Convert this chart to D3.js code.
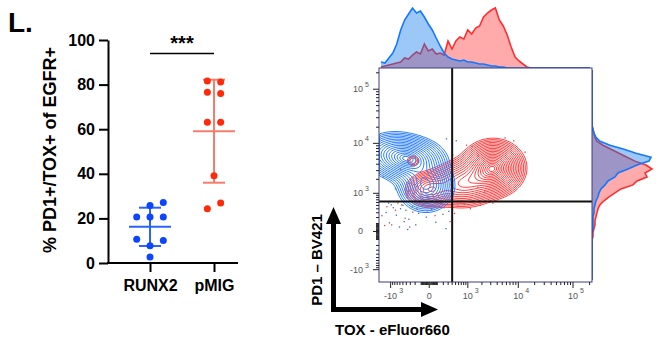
<!DOCTYPE html>
<html>
<head>
<meta charset="utf-8">
<script src="https://cdn.jsdelivr.net/npm/d3@7"></script>
<style>
  body { margin: 0; background: #fff; }
  svg { font-family: "Liberation Sans", Arial, sans-serif; }
</style>
</head>
<body>
<svg id="chart" width="659" height="339"></svg>
<script>
// ---- dot plot data ----
const groups = ["RUNX2", "pMIG"];
const runx2Values = [25.8, 27.1, 20.6, 20.6, 20.6, 10.7, 10.1, 7.7, 2.7];
const runx2Cols = [0, 1, -1, 0, 1, -1, 1, 0, 0];
const pmigValues = [81.6, 81.2, 76.6, 76.0, 63.1, 63.1, 39.1, 24.3, 26.9];
const pmigCols = [-0.5, 0.5, -0.5, 0.5, -0.5, 0.5, 0, -0.5, 0.5];
const leftTicks = [0, 20, 40, 60, 80, 100];
const sigLevel = 94;

// ---- flow plot data ----
const toxLim = [-1780, 221000];
const pd1Lim = [-1850, 245000];
const toxGate = 400;
const pd1Gate = 630;
const majorTicks = [-1000, 0, 1000, 10000, 100000];
// density lobes: [tox, pd1, spread tox, spread pd1 (ln units), weight]
const runx2Lobes = [[-306, 4840, 0.7, 0.44, 1.0], [-36, 1450, 0.56, 0.52, 0.9], [-929, 6880, 0.67, 0.44, 0.5]];
const pmigLobes = [[3320, 3380, 0.62, 0.55, 1.0], [731, 1600, 0.7, 0.5, 0.55], [-12, 1190, 0.5, 0.38, 0.45], [-241, 4700, 0.2, 0.17, 0.15]];
// sparse events outside contours [tox, pd1]
const runx2Events = [[-1300,320],[-1100,120],[-900,450],[-760,260],[-640,60],[-520,520],[-430,380],[-350,180],[-270,470],[-200,90],[-150,300],[-90,540],[-40,220],[20,400],[70,130],[120,480],[180,280],[240,40],[300,350],[-600,420],[-380,30],[-220,560],[90,560],[-1000,540],[1200,9000],[500,11500],[-1500,2300],[1600,6000],[250,12500],[2200,1100],[-800,1300],[-1150,600],[-480,140],[160,610],[-30,330]];
const pmigEvents = [[-1600,250],[-1250,480],[-980,90],[-800,380],[-560,540],[-330,60],[-180,420],[-60,520],[60,250],[200,450],[330,140],[550,500],[800,560],[1100,420],[1800,520],[-450,200],[140,560],[450,300],[2800,10500],[5500,13000],[900,9500],[13000,7000],[1600,1400],[400,6200],[8000,11500],[-600,3300],[3200,600],[-1400,80],[-700,600],[-260,330]];
// histograms (54 bins across each axis, low -> high)
const runx2ToxHist = [6,5,10,15,24,38,48,54,60,55,57,51,44,38,30,22,15,11,9,8,7,8,6,6,5,4,4,3,2,2,1,1,0,0,0,0,0,0,0,0,0,0,0,0,0,0,0,0,0,0,0,0,0,0];
const pmigToxHist = [1,2,3,4,5,6,10,9,13,16,14,24,17,19,14,15,13,27,19,27,31,29,38,34,40,42,51,55,58,60,48,42,33,21,11,7,4,1,0,0,0,0,0,0,0,0,0,0,0,0,0,0,0,0];
const runx2Pd1Hist = [0,0,0,0,0,0,0,0,0,0,0,0,0,1,1,1,1,2,2,3,4,6,7,9,13,16,23,26,36,45,57,59,44,32,18,8,4,2,1,0,0,0,0,0,0,0,0,0,0,0,0,0,0,0];
const pmigPd1Hist = [0,0,0,0,0,0,0,0,0,0,0,1,1,2,3,3,4,5,6,8,12,17,23,29,41,45,55,53,60,54,43,35,27,19,11,5,3,2,1,0,0,0,0,0,0,0,0,0,0,0,0,0,0,0];

const svg = d3.select("#chart");
const BOLD = "bold";

// ================= LEFT: dot plot =================
svg.append("text").attr("x", 8).attr("y", 32).attr("font-size", 28).attr("font-weight", BOLD).text("L.");

const yLeft = d3.scaleLinear().domain([0, 100]).range([263, 40]);
const xLeft = d3.scalePoint().domain(groups).range([118, 246]).padding(0.5);

const gyL = svg.append("g").attr("transform", "translate(108,0)")
  .call(d3.axisLeft(yLeft).tickValues(leftTicks).tickSize(9).tickSizeOuter(0).tickPadding(4));
gyL.attr("font-family", null).attr("font-size", 16).attr("font-weight", BOLD);
gyL.selectAll("path,line").attr("stroke", "#000").attr("stroke-width", 2);
gyL.selectAll("text").attr("fill", "#000");

const gxL = svg.append("g").attr("transform", "translate(0,263)")
  .call(d3.axisBottom(xLeft).tickSize(9).tickSizeOuter(0).tickPadding(8));
gxL.attr("font-family", null).attr("font-size", 16).attr("font-weight", BOLD);
gxL.select(".domain").attr("d", "M107,0H238");
gxL.selectAll("path,line").attr("stroke", "#000").attr("stroke-width", 2);
gxL.selectAll("text").attr("fill", "#000");

svg.append("text").attr("transform", "translate(56,150) rotate(-90)")
  .attr("text-anchor", "middle").attr("font-size", 18).attr("font-weight", BOLD)
  .text("% PD1+/TOX+ of EGFR+");

const colStep = 13.3;
function drawGroup(name, values, cols, dotColor, lineColor) {
  const cx = xLeft(name);
  const m = d3.mean(values), sd = d3.deviation(values);
  const g = svg.append("g").attr("stroke", lineColor).attr("stroke-width", 2);
  g.append("line").attr("x1", cx).attr("x2", cx).attr("y1", yLeft(m - sd)).attr("y2", yLeft(m + sd));
  g.append("line").attr("x1", cx - 21).attr("x2", cx + 21).attr("y1", yLeft(m)).attr("y2", yLeft(m));
  [m - sd, m + sd].forEach(v => g.append("line").attr("x1", cx - 11).attr("x2", cx + 11).attr("y1", yLeft(v)).attr("y2", yLeft(v)));
  svg.append("g").selectAll("circle").data(values).join("circle")
    .attr("cx", (d, i) => cx + cols[i] * colStep).attr("cy", d => yLeft(d))
    .attr("r", 3.5).attr("fill", dotColor);
}
drawGroup("RUNX2", runx2Values, runx2Cols, "#0d45ff", "#2a64ff");
drawGroup("pMIG", pmigValues, pmigCols, "#ff2a0a", "#f47d6c");

svg.append("line").attr("x1", xLeft("RUNX2")).attr("x2", xLeft("pMIG"))
  .attr("y1", yLeft(sigLevel)).attr("y2", yLeft(sigLevel)).attr("stroke", "#000").attr("stroke-width", 1.5);
svg.append("text").attr("x", (xLeft("RUNX2") + xLeft("pMIG")) / 2).attr("y", yLeft(sigLevel) - 3)
  .attr("text-anchor", "middle").attr("font-size", 20).attr("font-weight", BOLD).text("***");

// ================= RIGHT: flow plot =================
const x0 = 379, x1 = 592, y0 = 68, y1 = 282;
const xFlow = d3.scaleSymlog().constant(250).domain(toxLim).range([x0, x1]);
const yFlow = d3.scaleSymlog().constant(250).domain(pd1Lim).range([y1, y0]);
const tr = v => Math.sign(v) * Math.log1p(Math.abs(v) / 250);

svg.append("defs").append("clipPath").attr("id", "frameClip")
  .append("rect").attr("x", x0).attr("y", y0).attr("width", x1 - x0).attr("height", y1 - y0);

// histograms
const N = runx2ToxHist.length;
const binX = d3.scaleLinear().domain([0, N]).range([x0, x1]);
const hTop = d3.scaleLinear().domain([0, 60]).range([y0, 8]);
const binY = d3.scaleLinear().domain([0, N]).range([y1, y0]);
const hRight = d3.scaleLinear().domain([0, 60]).range([x1, 652]);

const topArea = d3.area().x((d, i) => binX(i + 0.5)).y0(y0).y1(d => hTop(d));
const topLine = d3.line().x((d, i) => binX(i + 0.5)).y(d => hTop(d));
const rightArea = d3.area().y((d, i) => binY(i + 0.5)).x0(x1).x1(d => hRight(d));
const rightLine = d3.line().y((d, i) => binY(i + 0.5)).x(d => hRight(d));

function drawHist(data, area, line, fill, fillOp, stroke) {
  svg.append("path").datum(data).attr("d", area).attr("fill", fill).attr("fill-opacity", fillOp);
  svg.append("path").datum(data).attr("d", line).attr("fill", "none").attr("stroke", stroke).attr("stroke-width", 1.6);
}
drawHist(pmigToxHist, topArea, topLine, "#ffabab", 1, "#ff2e2e");
drawHist(runx2ToxHist, topArea, topLine, "#0875ed", 0.4, "#1477ff");
drawHist(pmigPd1Hist, rightArea, rightLine, "#ffabab", 1, "#ff2e2e");
drawHist(runx2Pd1Hist, rightArea, rightLine, "#0875ed", 0.4, "#1477ff");

// white plotting area
svg.append("rect").attr("x", x0).attr("y", y0).attr("width", x1 - x0).attr("height", y1 - y0).attr("fill", "#fff");

// contours: density model on a 2px grid, rings at evenly spaced radii
const cell = 2;
const nx = Math.ceil((x1 - x0) / cell), ny = Math.ceil((y1 - y0) / cell);
function densityGrid(lobes) {
  const vals = new Float64Array(nx * ny);
  const L = lobes.map(([t, p, sx, sy, w]) => [tr(t), tr(p), sx, sy, w]);
  for (let j = 0; j < ny; j++) {
    const ty = tr(yFlow.invert(y0 + (j + 0.5) * cell));
    for (let i = 0; i < nx; i++) {
      const tx = tr(xFlow.invert(x0 + (i + 0.5) * cell));
      let s = 0;
      for (const [ct, cp, sx, sy, w] of L) {
        const dx = (tx - ct) / sx, dy = (ty - cp) / sy;
        s += w * Math.exp(-0.5 * (dx * dx + dy * dy));
      }
      vals[j * nx + i] = s;
    }
  }
  return vals;
}
const gridPath = d3.geoPath(d3.geoIdentity().scale(cell).translate([x0, y0]));
const plotG = svg.append("g").attr("clip-path", "url(#frameClip)");

function drawContours(lobes, n, color) {
  const vals = densityGrid(lobes);
  const mx = d3.max(vals);
  const levels = d3.range(n).map(i => {
    const r = 2.3 - 2.1 * i / (n - 1);
    return mx * Math.exp(-r * r / 2);
  });
  plotG.append("g").selectAll("path")
    .data(d3.contours().size([nx, ny]).thresholds(levels)(vals))
    .join("path").attr("d", gridPath)
    .attr("fill", "none").attr("stroke", color).attr("stroke-width", 1);
}
function drawEvents(events, color) {
  plotG.append("g").selectAll("rect").data(events).join("rect")
    .attr("x", d => xFlow(d[0])).attr("y", d => yFlow(d[1]))
    .attr("width", 1.3).attr("height", 1.3).attr("fill", color);
}
drawEvents(pmigEvents, "#d04848");
drawEvents(runx2Events, "#3d6bb5");
drawContours(pmigLobes, 20, "#ff4343");
drawContours(runx2Lobes, 17, "#2f82ff");

// gates
svg.append("line").attr("x1", xFlow(toxGate)).attr("x2", xFlow(toxGate)).attr("y1", y0).attr("y2", y1)
  .attr("stroke", "#111").attr("stroke-width", 2);
svg.append("line").attr("x1", x0).attr("x2", x1).attr("y1", yFlow(pd1Gate)).attr("y2", yFlow(pd1Gate))
  .attr("stroke", "#111").attr("stroke-width", 2);

// frame
svg.append("rect").attr("x", x0).attr("y", y0).attr("width", x1 - x0).attr("height", y1 - y0)
  .attr("fill", "none").attr("stroke", "#3c3c7c").attr("stroke-width", 1);

// biexponential-style ticks
const minorTicks = [];
[-1, 1].forEach(s => [10, 100, 1000, 10000, 100000].forEach(dec =>
  d3.range(1, 10).forEach(m => minorTicks.push(s * m * dec))));
const isMajor = v => majorTicks.includes(v);
const yTicksAll = minorTicks.filter(v => v > pd1Lim[0] && v < pd1Lim[1] && !isMajor(v));
const xTicksAll = minorTicks.filter(v => v > toxLim[0] && v < toxLim[1] && !isMajor(v));

const tickG = svg.append("g").attr("stroke", "#222").attr("stroke-width", 1);
yTicksAll.forEach(v => tickG.append("line").attr("x1", x0 - 3).attr("x2", x0).attr("y1", yFlow(v)).attr("y2", yFlow(v)));
xTicksAll.forEach(v => tickG.append("line").attr("y1", y1).attr("y2", y1 + 3).attr("x1", xFlow(v)).attr("x2", xFlow(v)));
majorTicks.forEach(v => {
  tickG.append("line").attr("x1", x0 - 6).attr("x2", x0).attr("y1", yFlow(v)).attr("y2", yFlow(v));
  tickG.append("line").attr("y1", y1).attr("y2", y1 + 6).attr("x1", xFlow(v)).attr("x2", xFlow(v));
});

const labG = svg.append("g").attr("fill", "#555").attr("font-size", 9);
const expOf = v => Math.round(Math.log10(Math.abs(v)));
majorTicks.forEach(v => {
  const base = v === 0 ? "0" : (v < 0 ? "-10" : "10");
  // y axis
  const ty = yFlow(v);
  labG.append("text").attr("x", 363).attr("y", ty + 3).attr("text-anchor", "end").text(base);
  if (v !== 0) labG.append("text").attr("x", 365).attr("y", ty - 2).attr("font-size", 7).text(expOf(v));
  // x axis
  const tx = xFlow(v);
  const t = labG.append("text").attr("x", tx).attr("y", 299).attr("text-anchor", "middle").text(base);
  if (v !== 0) {
    const w = t.node().getComputedTextLength();
    labG.append("text").attr("x", tx + w / 2 + 2).attr("y", 293).attr("font-size", 7).text(expOf(v));
  }
});

// axis arrows + titles
svg.append("path")
  .attr("d", "M331,312V224H326L333.5,207L341,224H336V307H421V302L438,309.5L421,317V312Z")
  .attr("fill", "#000");
svg.append("text").attr("transform", "translate(321.5,260) rotate(-90)")
  .attr("text-anchor", "middle").attr("font-size", 15).attr("font-weight", BOLD).text("PD1 \u2013 BV421");
svg.append("text").attr("x", 335).attr("y", 335)
  .attr("font-size", 15).attr("font-weight", BOLD).text("TOX - eFluor660");
</script>
</body>
</html>
